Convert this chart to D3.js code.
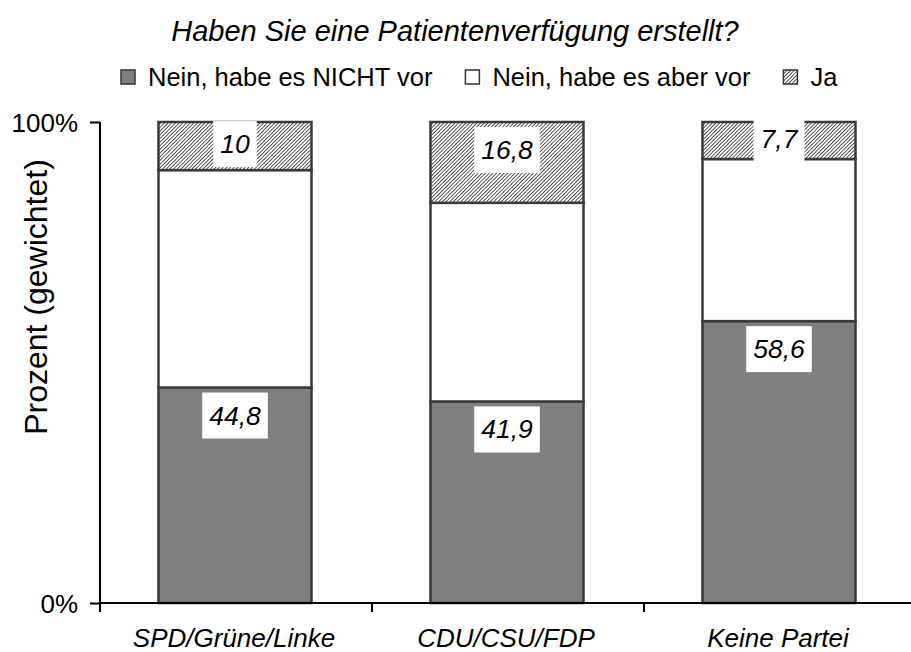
<!DOCTYPE html>
<html>
<head>
<meta charset="utf-8">
<script src="https://cdn.jsdelivr.net/npm/d3@7"></script>
<style>
  body { margin: 0; background: #fff; }
  text { font-family: 'Liberation Sans', Arial, sans-serif; fill: #000; }
</style>
</head>
<body>
<div id="chart"></div>
<script>
// data
let categories = ['SPD/Grüne/Linke', 'CDU/CSU/FDP', 'Keine Partei']
let seriesNames = ['Nein, habe es NICHT vor', 'Nein, habe es aber vor', 'Ja']
let neinNicht = [44.8, 41.9, 58.6]
let neinAber = [45.2, 41.3, 33.7]
let ja = [10, 16.8, 7.7]
let yTicks = [0, 100]
let labelled = ['Nein, habe es NICHT vor', 'Ja']

let width = 911
let height = 652

let svg = d3
  .select('#chart')
  .append('svg')
  .attr('width', width)
  .attr('height', height)

let defs = svg.append('defs')
let pat = defs.append('pattern')
  .attr('id', 'hatch')
  .attr('patternUnits', 'userSpaceOnUse')
  .attr('width', 2.6)
  .attr('height', 2.6)
  .attr('patternTransform', 'rotate(45)')
pat.append('rect').attr('width', 2.6).attr('height', 2.6).attr('fill', '#ffffff')
pat.append('line')
  .attr('x1', 0).attr('y1', 0).attr('x2', 0).attr('y2', 2.6)
  .attr('stroke', '#333').attr('stroke-width', 1.6)

let colorFill = d3.scaleOrdinal()
  .domain(seriesNames)
  .range(['#808080', '#ffffff', 'url(#hatch)'])

let rows = categories.map((c, i) => ({
  cat: c,
  'Nein, habe es NICHT vor': neinNicht[i],
  'Nein, habe es aber vor': neinAber[i],
  'Ja': ja[i]
}))

let stacked = d3.stack().keys(seriesNames)(rows)

let xScale = d3.scaleBand()
  .domain(categories)
  .range([100, 916])
  .padding(0)

let yScale = d3.scaleLinear()
  .domain([0, 100])
  .range([603, 122])

let barW = xScale.bandwidth() * 0.5625
let barOff = (xScale.bandwidth() - barW) / 2 - 1

function fmt(v) {
  return String(v).replace('.', ',')
}

// title
svg.append('text')
  .text('Haben Sie eine Patientenverfügung erstellt?')
  .attr('x', 455)
  .attr('y', 41)
  .attr('text-anchor', 'middle')
  .attr('font-size', 29)
  .attr('font-style', 'italic')

// legend
let legend = svg.append('g').attr('transform', 'translate(121,77)')
let lx = 0
seriesNames.forEach(name => {
  let g = legend.append('g').attr('transform', `translate(${lx},0)`)
  g.append('rect')
    .attr('x', 0)
    .attr('y', -7)
    .attr('width', 14)
    .attr('height', 14)
    .attr('fill', colorFill(name))
    .attr('stroke', '#333')
    .attr('stroke-width', 1.5)
  let t = g.append('text')
    .text(name)
    .attr('x', 27)
    .attr('y', 9)
    .attr('font-size', 25.5)
  lx += 27 + t.node().getComputedTextLength() + 33
})

// bars
let layers = svg.append('g')
  .selectAll('.layer')
  .data(stacked)
  .enter()
  .append('g')
  .attr('class', 'layer')
  .attr('fill', d => colorFill(d.key))

layers.selectAll('rect')
  .data(d => d)
  .enter()
  .append('rect')
  .attr('x', d => xScale(d.data.cat) + barOff)
  .attr('y', d => yScale(d[1]))
  .attr('width', barW)
  .attr('height', d => yScale(d[0]) - yScale(d[1]))
  .attr('stroke', '#3a3a3a')
  .attr('stroke-width', 2.5)

// axes
let yAxis = svg.append('g')
  .attr('transform', 'translate(100,0)')
  .call(d3.axisLeft(yScale).tickValues(yTicks).tickFormat(d => d + '%').tickSize(10).tickSizeOuter(0))
yAxis.select('.domain').remove()
yAxis.selectAll('line').attr('stroke', '#000').attr('stroke-width', 2)
yAxis.selectAll('text')
  .attr('x', -22)
  .attr('dy', null)
  .attr('font-size', 26)
  .attr('font-family', null)
  .attr('dominant-baseline', 'central')

svg.append('line')
  .attr('x1', 100).attr('x2', 100)
  .attr('y1', yScale(100)).attr('y2', yScale(0) + 9)
  .attr('stroke', '#000').attr('stroke-width', 2)
svg.append('line')
  .attr('x1', 100).attr('x2', width)
  .attr('y1', yScale(0)).attr('y2', yScale(0))
  .attr('stroke', '#000').attr('stroke-width', 2)

svg.selectAll('.xtick')
  .data(categories.slice(1))
  .enter()
  .append('line')
  .attr('class', 'xtick')
  .attr('x1', d => xScale(d)).attr('x2', d => xScale(d))
  .attr('y1', yScale(0)).attr('y2', yScale(0) + 9)
  .attr('stroke', '#000').attr('stroke-width', 2)

svg.selectAll('.xlabel')
  .data(categories)
  .enter()
  .append('text')
  .attr('class', 'xlabel')
  .text(d => d)
  .attr('x', d => xScale(d) + xScale.bandwidth() / 2 - 2)
  .attr('y', 647)
  .attr('text-anchor', 'middle')
  .attr('font-size', 26)
  .attr('font-style', 'italic')

// y title
svg.append('text')
  .text('Prozent (gewichtet)')
  .attr('text-anchor', 'middle')
  .attr('font-size', 32)
  .attr('transform', 'translate(47,297) rotate(-90)')

// value labels
let labelData = []
stacked.filter(s => labelled.includes(s.key)).forEach(s => {
  s.forEach(d => {
    let top = yScale(d[1])
    let h = yScale(d[0]) - top
    labelData.push({
      cx: xScale(d.data.cat) + barOff + barW / 2,
      cy: top + Math.min(28, h / 2 - 2),
      value: d[1] - d[0]
    })
  })
})

svg.selectAll('.value-label')
  .data(labelData)
  .enter()
  .append('g')
  .attr('class', 'value-label')
  .attr('transform', d => `translate(${d.cx},${d.cy})`)
  .each(function (d) {
    let g = d3.select(this)
    let t = g.append('text')
      .text(fmt(Math.round(d.value * 10) / 10))
      .attr('text-anchor', 'middle')
      .attr('dominant-baseline', 'central')
      .attr('font-size', 26.5)
      .attr('font-style', 'italic')
    let w = t.node().getComputedTextLength() + 14
    g.insert('rect', 'text')
      .attr('x', -w / 2)
      .attr('y', -23)
      .attr('width', w)
      .attr('height', 46)
      .attr('fill', '#fff')
  })
</script>
</body>
</html>
